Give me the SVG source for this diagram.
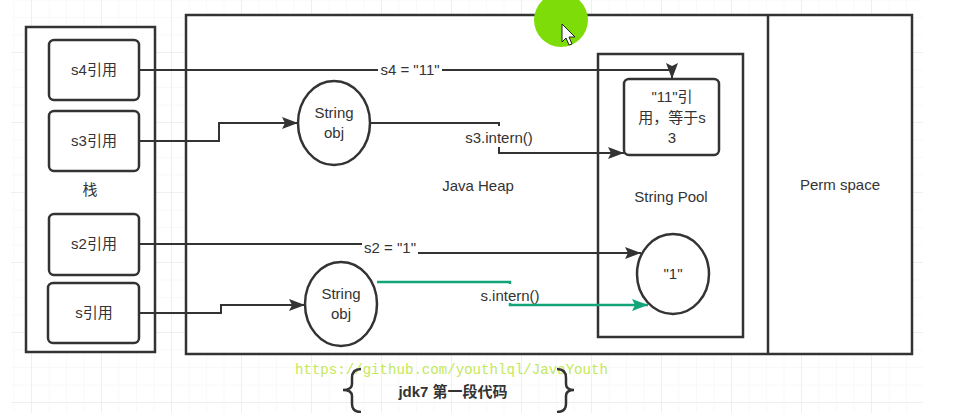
<svg xmlns="http://www.w3.org/2000/svg" width="955" height="413" viewBox="0 0 955 413">
<defs>
<pattern id="minor" patternUnits="userSpaceOnUse" x="31" y="52" width="17.5" height="17.5">
<path d="M0,0 V17.5 M0,0 H17.5" fill="none" stroke="#f3f3f3" stroke-width="1"/>
</pattern>
<pattern id="major" patternUnits="userSpaceOnUse" x="31" y="52" width="70" height="70">
<path d="M0,0 V70 M0,0 H70" fill="none" stroke="#e6e6e6" stroke-width="1"/>
</pattern>
<marker id="arr" markerUnits="userSpaceOnUse" markerWidth="17" markerHeight="13" refX="16" refY="6.5" orient="auto">
<path d="M0,0.5 L16,6.5 L0,12.5 L3,6.5 z" fill="#333"/>
</marker>
<marker id="arrG" markerUnits="userSpaceOnUse" markerWidth="17" markerHeight="13" refX="16" refY="6.5" orient="auto">
<path d="M0,0.5 L16,6.5 L0,12.5 L3,6.5 z" fill="#13a47a"/>
</marker>
</defs>
<style>
.box{fill:#fff;stroke:#333;stroke-width:2.5}
.t{font-family:"Liberation Sans","Noto Sans CJK SC",sans-serif;font-size:15px;fill:#333;text-anchor:middle}
.c{fill:none;stroke:#333;stroke-width:2}
.br{fill:none;stroke:#333;stroke-width:2.5}
.g{fill:none;stroke:#13a47a;stroke-width:2.5}
.lb{fill:#fff}
</style>
<rect width="955" height="413" fill="#fff"/>
<rect x="11" y="0" width="912" height="413" fill="url(#minor)"/>
<rect x="11" y="0" width="912" height="413" fill="url(#major)"/>

<g id="stack">
<rect class="box" x="26" y="27" width="129" height="325"/>
<text class="t" x="90" y="195">栈</text>
</g>
<g id="s4ref"><rect class="box" x="49" y="40" width="90" height="60" rx="5"/><text class="t" x="94" y="75">s4引用</text></g>
<g id="s3ref"><rect class="box" x="49" y="111" width="90" height="60" rx="5"/><text class="t" x="94" y="146">s3引用</text></g>
<g id="s2ref"><rect class="box" x="49" y="214" width="90" height="61" rx="5"/><text class="t" x="94" y="249">s2引用</text></g>
<g id="sref"><rect class="box" x="48" y="283" width="91" height="60" rx="5"/><text class="t" x="94" y="318">s引用</text></g>

<g id="heap">
<rect class="box" x="186" y="15" width="726" height="339"/>
<text class="t" x="478" y="191">Java Heap</text>
</g>
<g id="perm">
<line x1="768" y1="15" x2="768" y2="354" stroke="#333" stroke-width="2.5"/>
<text class="t" x="840" y="190">Perm space</text>
</g>
<g id="pool">
<rect class="box" x="598" y="54" width="145" height="283"/>
<text class="t" x="671" y="202">String Pool</text>
</g>
<g id="ref11">
<rect class="box" x="624" y="79" width="95" height="76" rx="5"/>
<text class="t" x="672" y="102">"11"引</text>
<text class="t" x="672" y="123">用，等于s</text>
<text class="t" x="672" y="143">3</text>
</g>
<g id="lit1">
<ellipse class="box" cx="673" cy="274" rx="36" ry="40"/>
<text class="t" x="673" y="279">"1"</text>
</g>
<g id="obj1">
<ellipse class="box" cx="334" cy="123" rx="36" ry="42"/>
<text class="t" x="334" y="118">String</text>
<text class="t" x="334" y="138">obj</text>
</g>
<g id="obj2">
<ellipse class="box" cx="341" cy="304" rx="36" ry="42"/>
<text class="t" x="341" y="299">String</text>
<text class="t" x="341" y="319">obj</text>
</g>

<g id="connectors">
<path class="c" d="M139,70 H672 V79" marker-end="url(#arr)"/>
<rect class="lb" x="378" y="62" width="64" height="16"/>
<text class="t" x="410" y="75">s4 = "11"</text>

<path class="c" d="M139,141 H219 V123 H298" marker-end="url(#arr)"/>

<path class="c" d="M370,123 H499 V153 H624" marker-end="url(#arr)"/>
<rect class="lb" x="464" y="126" width="70" height="21"/>
<text class="t" x="499" y="143">s3.intern()</text>

<path class="c" d="M139,244 H390 V253 H641" marker-end="url(#arr)"/>
<rect class="lb" x="362" y="238" width="56" height="20"/>
<text class="t" x="390" y="253">s2 = "1"</text>

<path class="c" d="M139,313 H221 V305 H305" marker-end="url(#arr)"/>

<path class="g" d="M377,282 H510 V305 H648" marker-end="url(#arrG)"/>
<rect class="lb" x="478" y="284" width="64" height="19"/>
<text class="t" x="510" y="301">s.intern()</text>
</g>

<g id="caption">
<text x="295" y="374" font-family="Liberation Mono, monospace" font-size="14.1" fill="#c4e85c">https://github.com/youthlql/JavaYouth</text>
<path class="br" d="M361,369 Q352,369 352,378 V384 Q352,390 343,390 Q352,390 352,396 V404 Q352,412 361,412"/>
<path class="br" d="M557,369 Q566,369 566,378 V384 Q566,390 574,390 Q566,390 566,396 V404 Q566,412 557,412"/>
<text class="t" x="453" y="397" font-weight="bold">jdk7 第一段代码</text>
</g>

<g id="cursor">
<circle cx="561" cy="20" r="27" fill="#7edc08"/>
<path d="M562,24 V42 L566,38 L569,45 L572,44 L569,37 L575,37 Z" fill="#fff" stroke="#222" stroke-width="1"/>
</g>
</svg>
